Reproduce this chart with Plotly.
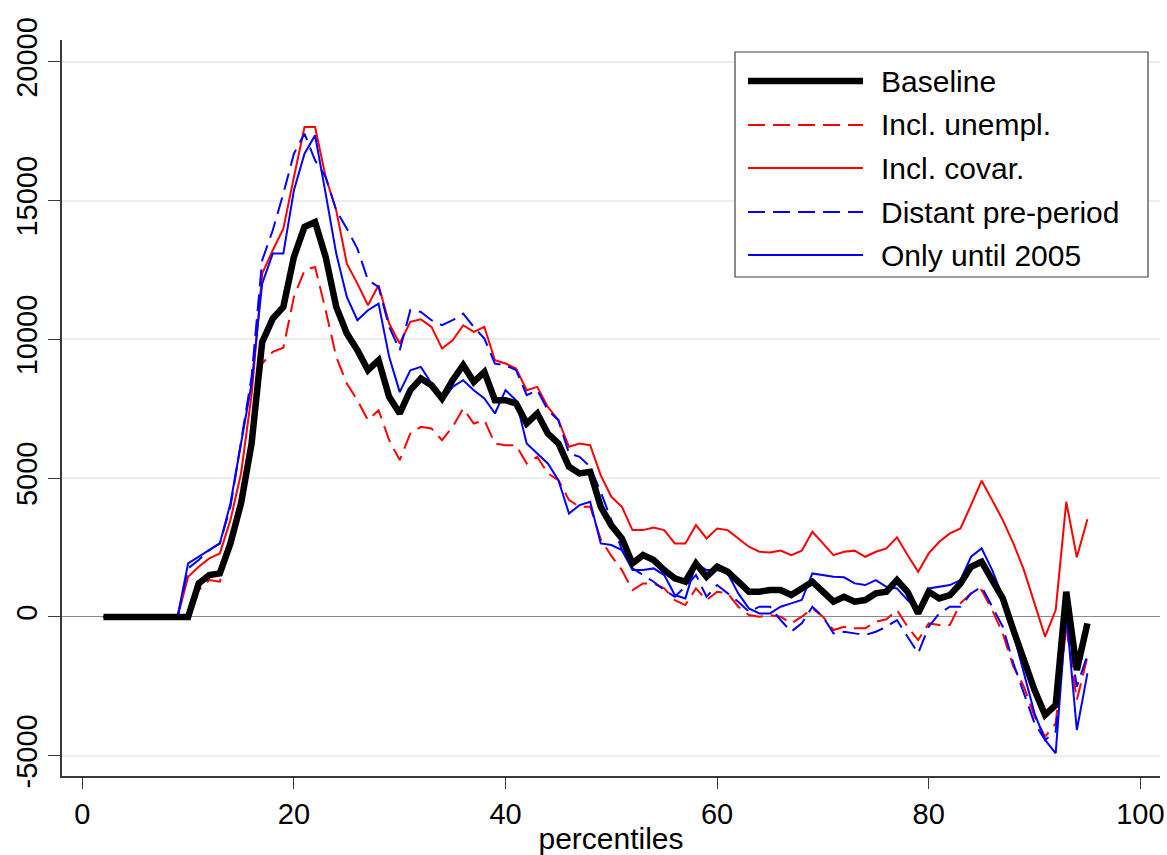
import plotly.graph_objects as go

percentiles = list(range(2, 96))

baseline = [0, 0, 0, 0, 0, 0, 0, 0,
            0, 1210, 1510, 1570, 2650, 4090, 6250, 9900, 10750, 11170,
            12970, 14050, 14230, 12970, 11170, 10210, 9610, 8890, 9250, 7930,
            7330, 8170, 8590, 8350, 7870, 8530, 9070, 8470, 8830, 7810,
            7810, 7690, 6970, 7330, 6610, 6250, 5410, 5170, 5230, 3970,
            3300, 2830, 1930, 2230, 2050, 1690, 1390, 1270, 1930, 1450,
            1810, 1630, 1270, 910, 910, 970, 970, 790, 1030, 1270,
            910, 550, 730, 550, 610, 850, 910, 1330, 910, 130,
            910, 670, 790, 1210, 1810, 1990, 1330, 670, -470, -1550,
            -2630, -3530, -3170, 910, -1910, -230]

incl_unempl = [0, 0, 0, 0, 0, 0, 0, 0,
               0, 970, 1330, 1270, 2770, 4200, 6000, 9130, 9550, 9700,
               11530, 12490, 12610, 11050, 9370, 8410, 7810, 7090, 7450, 6370,
               5650, 6610, 6850, 6790, 6370, 6850, 7510, 6970, 7090, 6250,
               6190, 6190, 5530, 5770, 5170, 4930, 4210, 3970, 3970, 2800,
               2200, 1690, 970, 1210, 1210, 1030, 610, 430, 1030, 610,
               910, 850, 370, 70, 10, 70, 10, -230, 10, 310,
               10, -470, -350, -410, -410, -170, -80, 250, -350, -830,
               -230, -290, -290, 490, 850, 970, 250, -590, -1790, -2510,
               -3590, -4310, -3830, -350, -2990, -1430]

incl_covar = [0, 0, 0, 0, 0, 0, 0, 0,
              1450, 1810, 2110, 2290, 3490, 5170, 8000, 12370, 13210, 13990,
              15850, 17650, 17650, 15850, 14650, 12730, 12010, 11230, 11950, 10570,
              9850, 10630, 10720, 10450, 9670, 9970, 10510, 10270, 10450, 9250,
              9130, 8950, 8170, 8290, 7570, 7090, 6130, 6250, 6190, 5100,
              4330, 3970, 3130, 3130, 3220, 3130, 2650, 2650, 3310, 2830,
              3190, 3130, 2830, 2530, 2350, 2320, 2390, 2230, 2390, 3070,
              2650, 2230, 2350, 2390, 2170, 2350, 2470, 2870, 2230, 1630,
              2290, 2710, 3010, 3190, 4030, 4910, 4210, 3490, 2650, 1690,
              490, -710, 250, 4150, 2150, 3520]

distant_pre = [0, 0, 0, 0, 0, 0, 0, 0,
               1750, 2050, 2410, 2650, 3970, 6250, 8650, 12850, 13930, 15250,
               16690, 17410, 16450, 15850, 14650, 13990, 13270, 12130, 11890, 10450,
               9610, 11050, 10990, 10690, 10510, 10690, 10930, 10450, 10030, 9130,
               9070, 8890, 7990, 8170, 7450, 7090, 5890, 5770, 5410, 4500,
               3500, 2410, 1750, 1510, 1270, 970, 730, 1090, 1510, 730,
               1150, 850, 550, 190, 370, 370, -110, -530, -230, 370,
               10, -590, -530, -590, -650, -530, -350, -110, -710, -1310,
               -350, 130, 370, 370, 850, 1090, 370, -350, -1670, -2750,
               -3830, -4430, -4130, 10, -2510, -1370]

until_2005 = [0, 0, 0, 0, 0, 0, 0, 0,
              1930, 2170, 2410, 2650, 4090, 6250, 8410, 12010, 13090, 13090,
              15370, 16690, 17350, 15250, 13090, 11530, 10690, 11050, 11290, 9370,
              8100, 8890, 9010, 8410, 7750, 8290, 8530, 8170, 7870, 7330,
              8170, 7810, 6250, 5890, 5530, 4930, 3730, 4030, 4150, 2650,
              2590, 2410, 1690, 1690, 1750, 1510, 790, 670, 1930, 1690,
              1690, 1570, 850, 310, 130, 130, 370, 490, 610, 1570,
              1510, 1450, 1430, 1210, 1150, 1330, 1090, 1030, 610, 250,
              1030, 1090, 1150, 1330, 2170, 2470, 1690, 730, -590, -2030,
              -3470, -4430, -4910, 130, -4070, -2030]

series_names = ["Baseline", "Incl. unempl.", "Incl. covar.",
                "Distant pre-period", "Only until 2005"]
x_ticks = [0, 20, 40, 60, 80, 100]
y_ticks = [-5000, 0, 5000, 10000, 15000, 20000]

FONT = "Arial, Liberation Sans, sans-serif"
DASH = "17px,8px"

styles = [
    dict(color="black", width=6.5, dash="solid"),
    dict(color="#ff0000", width=2, dash=DASH),
    dict(color="#ff0000", width=2, dash="solid"),
    dict(color="#0000ff", width=2, dash=DASH),
    dict(color="#0000ff", width=2, dash="solid"),
]
data = [baseline, incl_unempl, incl_covar, distant_pre, until_2005]

fig = go.Figure()
order = [1, 2, 3, 4, 0]
for i in order:
    fig.add_trace(go.Scatter(
        x=percentiles, y=data[i], mode="lines", name=series_names[i],
        line=dict(color=styles[i]["color"], width=styles[i]["width"],
                  dash=styles[i]["dash"]),
        showlegend=False, hoverinfo="skip"))

W, H = 1167, 855
ml, mr, mt, mb = 62, 7, 40, 79
pw, ph = W - ml - mr, H - mt - mb


def px2paper_x(px):
    return (px - ml) / pw


def py2paper_y(py):
    return (H - mb - py) / ph


shapes = [dict(type="rect", xref="paper", yref="paper",
               x0=px2paper_x(735), x1=px2paper_x(1148),
               y0=py2paper_y(277), y1=py2paper_y(52),
               line=dict(color="#404040", width=1.2), fillcolor="white",
               layer="above")]
annotations = []
entry_y = [81, 125, 168, 212, 255]
for i, yy in enumerate(entry_y):
    st = styles[i]
    shapes.append(dict(type="line", xref="paper", yref="paper",
                       x0=px2paper_x(748), x1=px2paper_x(863),
                       y0=py2paper_y(yy), y1=py2paper_y(yy),
                       line=dict(color=st["color"], width=st["width"],
                                 dash=st["dash"]),
                       layer="above"))
    annotations.append(dict(xref="paper", yref="paper",
                            x=px2paper_x(879), y=py2paper_y(yy),
                            xanchor="left", yanchor="middle",
                            text=series_names[i], showarrow=False,
                            font=dict(family=FONT, size=30, color="black")))

fig.update_layout(
    width=W, height=H,
    margin=dict(l=ml, r=mr, t=mt, b=mb, pad=0),
    paper_bgcolor="white", plot_bgcolor="white",
    font=dict(family=FONT, color="black"),
    showlegend=False,
    shapes=shapes, annotations=annotations,
    xaxis=dict(range=[-1.92, 101.86], tickvals=x_ticks,
               ticktext=[str(v) for v in x_ticks],
               showgrid=False, zeroline=False, automargin=False,
               showline=True, linecolor="#3a3a3a", linewidth=1.5,
               ticks="outside", ticklen=11, tickcolor="#3a3a3a", tickwidth=1.2,
               tickfont=dict(family=FONT, size=29, color="black"),
               title=dict(text="percentiles", standoff=2,
                          font=dict(family=FONT, size=30, color="black"))),
    yaxis=dict(range=[-5728, 20785], tickvals=y_ticks,
               ticktext=[str(v) for v in y_ticks],
               tickangle=-90, automargin=False,
               showgrid=True, gridcolor="#e8eef2", gridwidth=2,
               zeroline=True, zerolinecolor="#8a8a8a", zerolinewidth=1.2,
               showline=True, linecolor="#3a3a3a", linewidth=1.5,
               ticks="outside", ticklen=12, tickcolor="#3a3a3a", tickwidth=1.2,
               tickfont=dict(family=FONT, size=29, color="black")),
)

fig.write_html("out.html")
